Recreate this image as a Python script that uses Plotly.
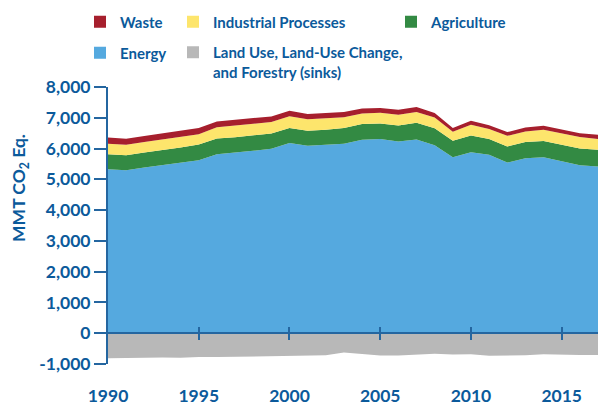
import plotly.graph_objects as go

years = list(range(1990, 2018))
energy = [5330, 5298, 5383, 5460, 5545, 5623, 5818, 5884, 5926, 5991, 6177, 6089, 6121, 6154,
          6284, 6307, 6229, 6294, 6110, 5720, 5884, 5796, 5545, 5688, 5720, 5578, 5460, 5415]
agriculture = [488, 488, 488, 488, 489, 508, 509, 487, 499, 499, 488, 488, 489, 511,
               511, 508, 521, 544, 550, 532, 541, 511, 521, 521, 522, 543, 541, 543]
industrial = [336, 335, 340, 345, 345, 334, 363, 379, 380, 375, 388, 373, 373, 356,
              345, 345, 351, 351, 345, 290, 348, 325, 348, 346, 368, 375, 371, 355]
waste = [205, 200, 198, 197, 195, 200, 190, 185, 185, 180, 175, 170, 170, 165,
         165, 160, 160, 160, 150, 125, 130, 125, 120, 128, 128, 120, 128, 135]
land_use = [-810, -800, -790, -785, -795, -770, -775, -765, -760, -755, -745, -725, -715, -630,
            -665, -720, -725, -690, -665, -690, -685, -730, -730, -715, -680, -700, -705, -705]

x_tick_vals = [1990, 1995, 2000, 2005, 2010, 2015]
x_tick_text = ["1990", "1995", "2000", "2005", "2010", "2015"]
y_tick_vals = [-1000, 0, 1000, 2000, 3000, 4000, 5000, 6000, 7000, 8000]
y_tick_text = ["-1,000", "0", "1,000", "2,000", "3,000", "4,000", "5,000", "6,000", "7,000", "8,000"]
y_title = "MMT CO<sub>2</sub> Eq."

TXT = "#0b5a9b"
AX = "#2466a0"
C_WASTE = "#a61f2d"
C_IND = "#fde56c"
C_AGR = "#338a43"
C_ENE = "#55a9df"
C_LAND = "#b8b8b8"
FONT = "Lato, Liberation Sans, Arial, sans-serif"

# the page body has an 8px margin, so the figure is drawn 8px smaller and offset
OFF = 8
W, H = 616 - OFF, 406 - OFF
ML, MR, MT, MB = 108 - OFF, 17.5, 87.3 - OFF, 42.3
fig = go.Figure()

# stacked areas
for name, vals, col in [("Energy", energy, C_ENE), ("Agriculture", agriculture, C_AGR),
                        ("Industrial Processes", industrial, C_IND), ("Waste", waste, C_WASTE)]:
    fig.add_trace(go.Scatter(x=years, y=vals, name=name, stackgroup="pos", mode="lines",
                             line=dict(width=0, color=col), fillcolor=col, showlegend=False,
                             hoverinfo="skip"))
fig.add_trace(go.Scatter(x=years, y=land_use, name="Land Use", mode="lines", fill="tozeroy",
                         line=dict(width=0, color=C_LAND), fillcolor=C_LAND, showlegend=False,
                         hoverinfo="skip"))

# legend entries (square swatches), each in its own positioned legend
leg_font = dict(family=FONT, size=15, color=TXT, weight=700)
entries = [
    ("Waste", C_WASTE, "legend", 104, 22, "middle"),
    ("Industrial Processes", C_IND, "legend2", 197, 22, "middle"),
    ("Agriculture", C_AGR, "legend3", 415, 22, "middle"),
    ("Energy", C_ENE, "legend4", 104, 53, "middle"),
    ("Land Use, Land-Use Change,<br>and Forestry (sinks)", C_LAND, "legend5", 197, 36, "top"),
]
legend_layouts = {}
for name, col, leg, lx, ly, ya in entries:
    fig.add_trace(go.Scatter(x=[None], y=[None], mode="markers", name=name, legend=leg,
                             marker=dict(symbol="square", size=12, color=col, line=dict(width=0))))
    legend_layouts[leg] = dict(x=(lx - 24 - OFF) / W, y=1 - (ly - OFF) / H,
                               xref="container", yref="container",
                               xanchor="left", yanchor=ya, font=leg_font, bgcolor="rgba(0,0,0,0)",
                               borderwidth=0, itemsizing="trace", valign="top",
                               itemclick=False, itemdoubleclick=False)

tick_font = dict(family=FONT, size=17.5, color=TXT, weight=700)
plot_h = H - MT - MB

fig.update_layout(
    width=W, height=H,
    margin=dict(l=ML, r=MR, t=MT, b=MB, autoexpand=False),
    plot_bgcolor="white", paper_bgcolor="white",
    **legend_layouts,
    xaxis=dict(range=[1990, 2017], tickvals=x_tick_vals, ticktext=x_tick_text, showline=False,
               ticks="", showgrid=False, zeroline=False, tickfont=tick_font, ticklabelstandoff=19,
               automargin=False),
    xaxis2=dict(range=[1990, 2017], overlaying="x", anchor="free", position=1000 / 9000, side="bottom",
                tickvals=x_tick_vals[1:], showticklabels=False, showline=True, linecolor=AX, linewidth=2,
                ticks="outside", ticklen=6, tickwidth=2, tickcolor=AX, showgrid=False, zeroline=False,
                automargin=False),
    xaxis3=dict(range=[1990, 2017], overlaying="x", anchor="free", position=1000 / 9000, side="bottom",
                tickvals=x_tick_vals[1:], showticklabels=False, showline=False,
                ticks="inside", ticklen=6, tickwidth=2, tickcolor=AX, showgrid=False, zeroline=False,
                automargin=False),
    yaxis=dict(range=[-1000, 8000], tickvals=y_tick_vals, ticktext=y_tick_text, showline=True,
               linecolor=AX, linewidth=2, ticks="outside", ticklen=12, tickwidth=2, tickcolor=AX,
               showgrid=False, zeroline=False, tickfont=tick_font, automargin=False),
    annotations=[dict(text=y_title, textangle=-90, xref="paper", yref="paper",
                      x=0, xanchor="center", xshift=(20 - OFF) - ML,
                      y=(H - MB - (188 - OFF)) / plot_h, yanchor="middle", showarrow=False,
                      font=dict(family=FONT, size=17.5, color=TXT, weight=700))],
)
# dummy traces to activate the overlay axes
fig.add_trace(go.Scatter(x=[None], y=[None], xaxis="x2", showlegend=False, hoverinfo="skip"))
fig.add_trace(go.Scatter(x=[None], y=[None], xaxis="x3", showlegend=False, hoverinfo="skip"))

fig.write_html("out.html")
